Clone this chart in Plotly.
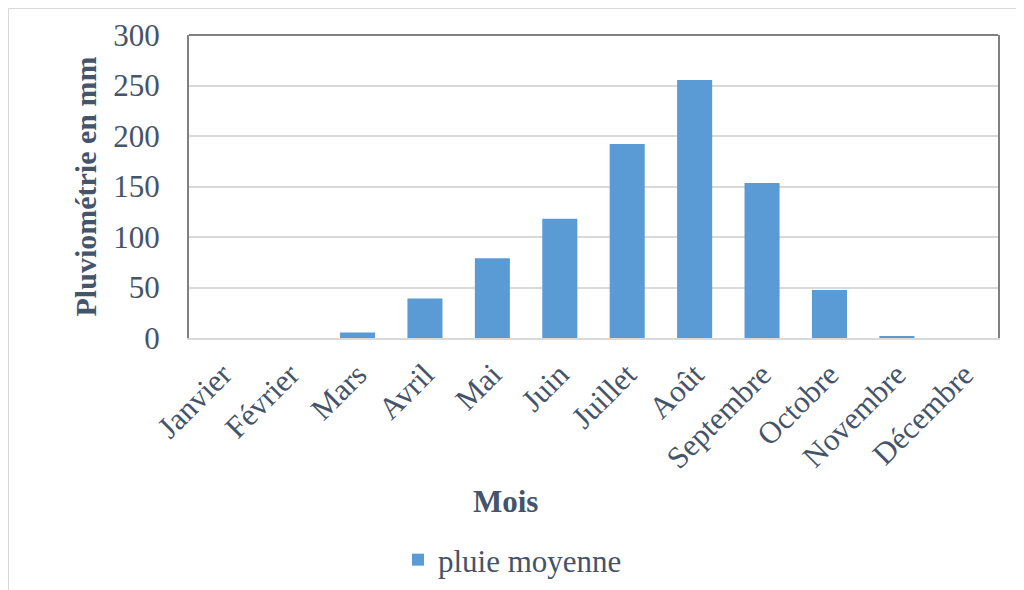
import plotly.graph_objects as go

months = ["Janvier", "Février", "Mars", "Avril", "Mai", "Juin", "Juillet",
          "Août", "Septembre", "Octobre", "Novembre", "Décembre"]
pluie = [0, 0, 5.5, 39, 79, 118, 192, 255.5, 153.5, 47.5, 2, 0]
series_name = "pluie moyenne"
y_title = "Pluviométrie en mm"
x_title = "Mois"
y_ticks = [0, 50, 100, 150, 200, 250, 300]

TXT = "#44546A"
FONT = "Liberation Serif, Times New Roman, serif"

OFF = 8  # page body margin
W, H = 1024 - OFF, 590 - OFF
L, R, T, B = 189 - OFF, 1024 - 998, 35 - OFF, 590 - 338
pw = W - L - R
ph = H - T - B

def px2x(p):
    return (p - OFF - L) / pw

def py2y(p):
    return (338 - p) / ph

fig = go.Figure()
fig.add_trace(go.Bar(
    x=months, y=pluie, name=series_name,
    marker=dict(color="#5B9BD5", line=dict(width=0)),
    showlegend=True,
))

fig.update_layout(
    width=W, height=H,
    margin=dict(l=L, r=R, t=T, b=B, autoexpand=False),
    paper_bgcolor="white", plot_bgcolor="white",
    bargap=0.48,
    font=dict(family=FONT, color=TXT, size=31),
    showlegend=True,
    legend=dict(orientation="h", x=px2x(398), xanchor="left",
                y=py2y(560), yanchor="middle",
                font=dict(family=FONT, size=31, color=TXT),
                itemwidth=30, bgcolor="rgba(0,0,0,0)"),
    xaxis=dict(
        tickangle=-45, showgrid=False,
        showline=True, linecolor="#D9D9D9", linewidth=2,
        ticks="outside", ticklen=4, tickcolor="rgba(0,0,0,0)",
        tickfont=dict(family=FONT, size=31, color=TXT),
        fixedrange=True,
    ),
    yaxis=dict(
        range=[0, 300], tickvals=y_ticks,
        showgrid=True, gridcolor="#D9D9D9", gridwidth=1.5,
        showline=True, mirror=True, linecolor="#808080", linewidth=2,
        ticks="outside", ticklen=21, tickcolor="rgba(0,0,0,0)",
        tickfont=dict(family=FONT, size=31, color=TXT),
        zeroline=False,
        title=dict(text="<b>" + y_title + "</b>", standoff=8,
                   font=dict(family=FONT, size=30, color=TXT)),
    ),
    shapes=[
        dict(type="line", xref="paper", yref="paper", x0=0, x1=1, y0=1, y1=1,
             line=dict(color="#808080", width=2)),
        dict(type="line", xref="paper", yref="paper",
             x0=px2x(8.5), x1=px2x(1030), y0=py2y(8.5), y1=py2y(8.5),
             line=dict(color="#D9D9D9", width=1), layer="below"),
        dict(type="line", xref="paper", yref="paper",
             x0=px2x(8.5), x1=px2x(8.5), y0=py2y(8.5), y1=py2y(600),
             line=dict(color="#D9D9D9", width=1), layer="below"),
    ],
    annotations=[
        dict(text="<b>" + x_title + "</b>", xref="paper", yref="paper",
             x=px2x(505), y=py2y(502), xanchor="center", yanchor="middle",
             showarrow=False, font=dict(family=FONT, size=31, color=TXT)),
    ],
)

fig.write_html("out.html")
